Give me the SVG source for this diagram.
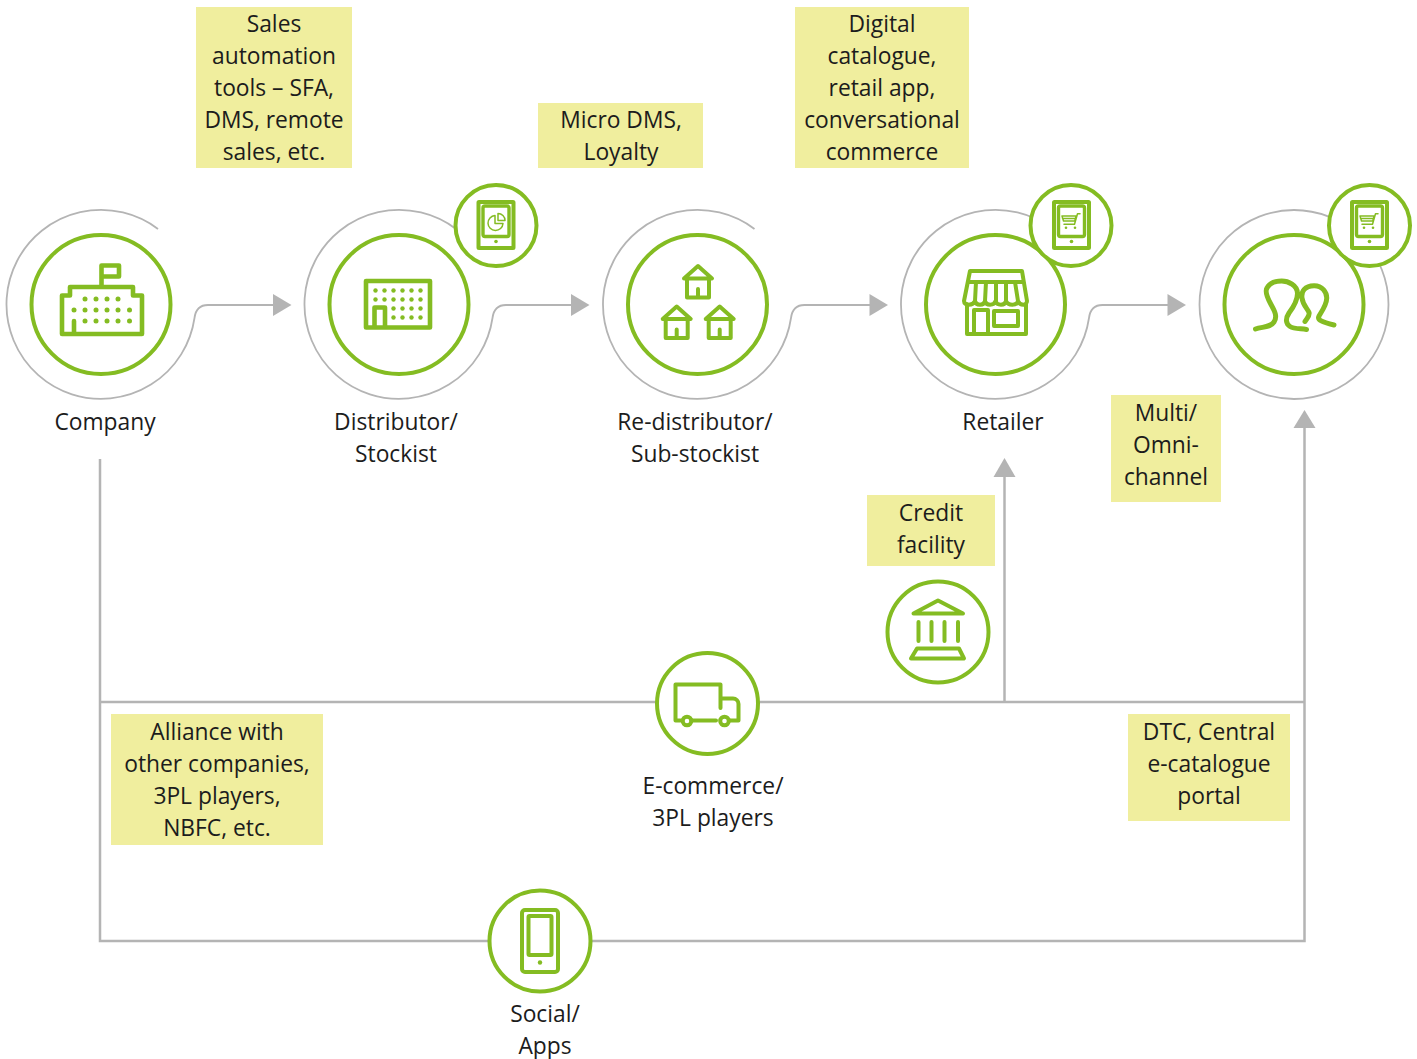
<svg xmlns="http://www.w3.org/2000/svg" xmlns:xlink="http://www.w3.org/1999/xlink" width="1417" height="1059" viewBox="0 0 1417 1059">
<style>
text{font-family:"Open Sans","Noto Sans",sans-serif;font-size:22.8px;fill:#1c1c1c;text-anchor:middle}
.box{fill:#f0ee9e}
.c{fill:#fff;stroke:#84bc22;stroke-width:4}
.i{fill:none;stroke:#84bc22;stroke-width:4;stroke-linecap:round;stroke-linejoin:round}
.h{stroke-width:4.6}
.t{fill:none;stroke:#84bc22;stroke-width:1.500;stroke-linecap:round;stroke-linejoin:round}
.d{fill:#84bc22}
.l{fill:none;stroke:#b4b4b4;stroke-width:2.5}
.s{fill:none;stroke:#b4b4b4;stroke-width:1.8}
.a{fill:#b4b4b4}
</style>
<defs>
<g id="spiral"><path class="s" d="M57,-75.5A94.5,94.5 0 1 0 93.5,13.5C94.500,5.500 99,0.500 107,0.500L173,0.500"/><path class="a" d="M172,-10.500L190.500,0.500L172,11.500Z"/></g>
<g id="tablet"><rect class="i" x="-17.500" y="-23" width="35" height="46" rx="0.5"/><rect class="i" style="stroke-width:3.400" x="-13" y="-19" width="26" height="30.500" rx="2"/><circle class="d" cx="0" cy="16.500" r="1.800"/></g>
<g id="cart"><path class="t" d="M9,-7.300H6.500L3.500,3.300H-7M-9,-5H5L3.800,0H-7.500ZM-8.500,-2.500H4.500"/><circle class="d" cx="-5" cy="6.700" r="1.300"/><circle class="d" cx="4" cy="6.700" r="1.300"/></g>
<g id="house"><path class="i" d="M-14,12.500L0,0L14,12.500ZM-11,12.500V31.500H11V12.500M0,23V31.500"/></g>
</defs>

<g id="connectors">
<use xlink:href="#spiral" href="#spiral" x="101" y="304.500"/>
<use xlink:href="#spiral" href="#spiral" x="399" y="304.500"/>
<use xlink:href="#spiral" href="#spiral" x="697.500" y="304.500"/>
<use xlink:href="#spiral" href="#spiral" x="995.500" y="304.500"/>
<circle class="s" cx="1294" cy="304.500" r="94.500"/>
<path class="l" d="M100,459V941H1304.500V428"/>
<path class="l" d="M100,702H1304.500"/>
<path class="l" d="M1004.500,702V476"/>
<path class="a" d="M993.500,477L1004.500,458L1015.500,477Z"/>
<path class="a" d="M1293.500,428L1304.500,410L1315.500,428Z"/>
</g>

<g id="label-sales"><rect class="box" x="196" y="7" width="156" height="161"/>
<text x="274" y="32">Sales</text><text x="274" y="64">automation</text><text x="274" y="96">tools – SFA,</text><text x="274" y="128">DMS, remote</text><text x="274" y="160">sales, etc.</text></g>
<g id="label-micro"><rect class="box" x="538" y="103" width="165" height="65"/>
<text x="621" y="128">Micro DMS,</text><text x="621" y="160">Loyalty</text></g>
<g id="label-digital"><rect class="box" x="795" y="7" width="174" height="161"/>
<text x="882" y="32">Digital</text><text x="882" y="64">catalogue,</text><text x="882" y="96">retail app,</text><text x="882" y="128">conversational</text><text x="882" y="160">commerce</text></g>
<g id="label-multi"><rect class="box" x="1111" y="395" width="110" height="107"/>
<text x="1166" y="421">Multi/</text><text x="1166" y="453">Omni-</text><text x="1166" y="485">channel</text></g>
<g id="label-credit"><rect class="box" x="867" y="495" width="128" height="71"/>
<text x="931" y="521">Credit</text><text x="931" y="553">facility</text></g>
<g id="label-alliance"><rect class="box" x="111" y="714" width="212" height="131"/>
<text x="217" y="740">Alliance with</text><text x="217" y="772">other companies,</text><text x="217" y="804">3PL players,</text><text x="217" y="836">NBFC, etc.</text></g>
<g id="label-dtc"><rect class="box" x="1128" y="714" width="162" height="107"/>
<text x="1209" y="740">DTC, Central</text><text x="1209" y="772">e-catalogue</text><text x="1209" y="804">portal</text></g>

<g id="node-company">
<circle class="c" cx="101" cy="304.500" r="69.500"/>
<path class="i h" d="M62,334V295.500H70V287H133V295.500H142V334ZM101.500,287V265.500H119V276.500H101.500M74,334V321"/>
<g class="d"><circle cx="85" cy="299" r="2.500"/><circle cx="96" cy="299" r="2.500"/><circle cx="107" cy="299" r="2.500"/><circle cx="118" cy="299" r="2.500"/>
<circle cx="74" cy="310" r="2.500"/><circle cx="85" cy="310" r="2.500"/><circle cx="96" cy="310" r="2.500"/><circle cx="107" cy="310" r="2.500"/><circle cx="118" cy="310" r="2.500"/><circle cx="129.500" cy="310" r="2.500"/>
<circle cx="85" cy="321" r="2.500"/><circle cx="96" cy="321" r="2.500"/><circle cx="107" cy="321" r="2.500"/><circle cx="118" cy="321" r="2.500"/><circle cx="129.500" cy="321" r="2.500"/></g>
<text x="105" y="430">Company</text>
</g>

<g id="node-distributor">
<circle class="c" cx="399" cy="304.500" r="69.500"/>
<path class="i h" d="M366,281H430V327.500H366ZM374.500,327.500V307.500H385V327.500"/>
<g class="d"><circle cx="375.500" cy="290.500" r="2.200"/><circle cx="384.500" cy="290.500" r="2.200"/><circle cx="393.500" cy="290.500" r="2.200"/><circle cx="402.500" cy="290.500" r="2.200"/><circle cx="411.500" cy="290.500" r="2.200"/><circle cx="420.500" cy="290.500" r="2.200"/>
<circle cx="375.500" cy="299.500" r="2.200"/><circle cx="384.500" cy="299.500" r="2.200"/><circle cx="393.500" cy="299.500" r="2.200"/><circle cx="402.500" cy="299.500" r="2.200"/><circle cx="411.500" cy="299.500" r="2.200"/><circle cx="420.500" cy="299.500" r="2.200"/>
<circle cx="393.500" cy="308.500" r="2.200"/><circle cx="402.500" cy="308.500" r="2.200"/><circle cx="411.500" cy="308.500" r="2.200"/><circle cx="420.500" cy="308.500" r="2.200"/>
<circle cx="393.500" cy="317.500" r="2.200"/><circle cx="402.500" cy="317.500" r="2.200"/><circle cx="411.500" cy="317.500" r="2.200"/><circle cx="420.500" cy="317.500" r="2.200"/></g>
<text x="396" y="430">Distributor/</text><text x="396" y="462">Stockist</text>
</g>
<g id="node-sfa-tablet">
<circle class="c" cx="496" cy="225.500" r="40.500"/>
<use xlink:href="#tablet" href="#tablet" x="496" y="225"/>
<path class="t" d="M495,215.500A7.500,7.500 0 1 0 503,223.500H495ZM498,213.500V220.500H505A7,7 0 0 0 498,213.500Z"/>
</g>

<g id="node-redistributor">
<circle class="c" cx="697.500" cy="304.500" r="69.500"/>
<use xlink:href="#house" href="#house" x="698" y="266"/>
<use xlink:href="#house" href="#house" x="676.700" y="306.500"/>
<use xlink:href="#house" href="#house" x="719.700" y="306.500"/>
<text x="695" y="430">Re-distributor/</text><text x="695" y="462">Sub-stockist</text>
</g>

<g id="node-retailer">
<circle class="c" cx="995.500" cy="304.500" r="69.500"/>
<path class="i" d="M970,271H1022L1027,301C1027,306 1020,306 1018,301C1017,306 1008,306 1006,301C1005,306 997,306 995.500,301C994,306 986,306 985,301C984,306 976,306 975,301C973,306 964,306 964,301ZM969,282H1023M976,282L975,301M986,282L985,301M996,282V301M1006,282L1006,301M1015,282L1018,301M967,304V334H1026V304M974,334V310H988V334M994,311H1018V326H994Z"/>
<text x="1003" y="430">Retailer</text>
</g>
<g id="node-retailer-tablet">
<circle class="c" cx="1071" cy="225.500" r="40.500"/>
<use xlink:href="#tablet" href="#tablet" x="1071.500" y="225"/>
<use xlink:href="#cart" href="#cart" x="1071" y="221"/>
</g>

<g id="node-consumer">
<circle class="c" cx="1294" cy="304.500" r="69.500"/>
<path class="i" style="stroke-width:5" d="M1255.500,329C1262,326.500 1270,328 1274,322C1278,316 1274,310 1270.500,303.500C1267,297 1265,291 1267,288C1270,282 1276,281 1281.700,281C1288,281 1297.500,285 1297.500,293.500C1297.500,301 1292,309 1289,313C1285,319 1286,324 1290,326.500C1294,329 1300,328.500 1306.500,329.500M1305,321.500C1307,318 1310,316 1309,312.500C1308,309 1303,306 1302,298C1301,291 1305,286 1314,285.700C1322,285.500 1327,292 1326.700,298.500C1326.500,305 1322,311 1319,316C1317,320 1322,322 1334,325"/>
</g>
<g id="node-consumer-tablet">
<circle class="c" cx="1369.500" cy="225.500" r="40.500"/>
<use xlink:href="#tablet" href="#tablet" x="1369.500" y="225"/>
<use xlink:href="#cart" href="#cart" x="1369" y="221"/>
</g>

<g id="node-bank">
<circle class="c" cx="938" cy="632" r="50.500"/>
<path class="i" d="M913.500,613.500L938,600.500L963,613.500ZM918.500,622V641M931.500,622V641M944.500,622V641M958,622V641M917,648.500H959L964,658.500H911Z"/>
</g>

<g id="node-ecommerce">
<circle class="c" cx="707.500" cy="703.500" r="50.500"/>
<path class="i" d="M680.500,720.500H675.500V684.500H720.500V708M720.500,698.500H733C736,698.500 738.500,701 738.500,704V720.500H729M716,720.500H691.500"/>
<circle class="i" cx="687" cy="721" r="4.300"/><circle class="i" cx="724.500" cy="721" r="4.300"/>
<text x="713" y="794">E-commerce/</text><text x="713" y="826">3PL players</text>
</g>

<g id="node-social">
<circle class="c" cx="540" cy="941" r="50.500"/>
<rect class="i" x="522" y="910" width="36" height="62" rx="3"/>
<rect class="i" x="528.500" y="916" width="23" height="39" rx="1"/>
<circle class="d" cx="540" cy="962.500" r="2.200"/>
<text x="545" y="1022">Social/</text><text x="545" y="1054">Apps</text>
</g>
</svg>
